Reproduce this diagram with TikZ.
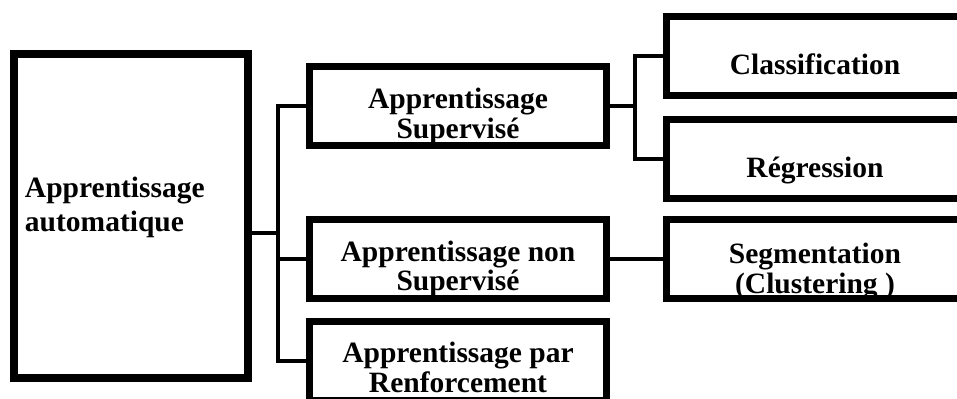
\documentclass[tikz,border=0pt]{standalone}
\usepackage{fontspec}
\setmainfont{Liberation Serif}
\usetikzlibrary{positioning}

\begin{document}
\begin{tikzpicture}[x=0.5pt, y=-0.5pt, node distance=8pt,
    box/.style={rectangle, draw, line width=3.5pt, minimum width=148.5pt, minimum height=39.5pt, inner sep=0pt, align=center, text height=31pt, text depth=0pt, font=\fontsize{14.75pt}{13.5pt}\selectfont\bfseries},
    link/.style={line width=2pt}]
    \useasboundingbox (0,0) rectangle (957,398);
    \clip (0,0) rectangle (957,398);

    % Define nodes
    \node (root) [box, line width=4pt, minimum width=117pt, minimum height=162pt, text width=106pt, align=left, text height=0pt, text depth=19pt, font=\fontsize{14.75pt}{17pt}\selectfont\bfseries] at (131,216) {Apprentissage\\automatique};
    \node (sup) [box, text height=32pt] at (458,106) {Apprentissage\\Supervisé};
    \node (nonsup) [box, below=33.5pt of sup] {Apprentissage non\\Supervisé};
    \node (renf) [box, below=of nonsup] {Apprentissage par\\Renforcement};
    \node (class) [box, text height=18.5pt] at (815,55.5) {Classification};
    \node (reg) [box, text height=18.5pt, below=8.5pt of class] {Régression};
    \node (seg) [box, text height=34pt, font=\fontsize{14.75pt}{15pt}\selectfont\bfseries, right=26.5pt of nonsup] {Segmentation\\(Clustering )};

    % Draw connectors
    \coordinate (busA) at (278,233);
    \coordinate (busB) at (635,106);
    \draw[link] (root.east |- busA) -- (busA);
    \draw[link] (sup.west) -| (busA) |- (renf.west);
    \draw[link] (nonsup.west) -- (nonsup.west -| busA);
    \draw[link] (sup.east) -- (busB);
    \draw[link] (class.west) -| (busB) |- (reg.west);
    \draw[link] (nonsup) -- (seg);
\end{tikzpicture}
\end{document}
